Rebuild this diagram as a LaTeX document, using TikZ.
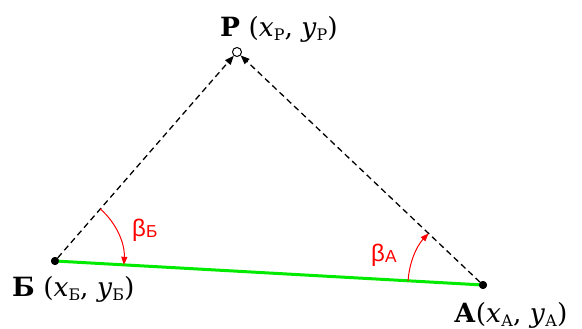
\documentclass[tikz,border=0pt]{standalone}
\usepackage{fontspec}
\setmainfont{DejaVu Serif}
\newfontfamily\betafont{Liberation Sans}
\usetikzlibrary{arrows.meta}
\newcommand\sbs[1]{\raisebox{-0.3ex}{\scalebox{0.6}{#1}}}
\newcommand\bsb[1]{\raisebox{-0.1ex}{\scalebox{0.72}{#1}}}
\begin{document}
\begin{tikzpicture}[x=1pt,y=1pt,
  lbl/.style={inner sep=0pt, font=\fontsize{26.5}{29}\selectfont},
  bet/.style={inner sep=0pt, text=red, font=\betafont\fontsize{24}{26}\selectfont},
  dashline/.style={dashed, dash pattern=on 6pt off 4pt, line width=1.3pt, -{Triangle[length=9pt,width=7pt]}},
  greenline/.style={line width=3pt, draw={rgb,255:red,0;green,235;blue,0}},
  anglearc/.style={red, line width=1pt, -{Triangle[length=8pt,width=6pt]}},
  dot/.style={circle, fill=black, inner sep=0pt, minimum size=8pt}]
\useasboundingbox (0,0) rectangle (582,-329);
\node[dot] (B) at (55,-261) {};
\node[dot] (A) at (483,-285) {};
\node[circle, draw, line width=1pt, fill=white, inner sep=0pt, minimum size=9pt] (P) at (237,-52) {};
\draw[greenline] (B.center) -- (A.center);
\draw[dashline] (B) -- (P);
\draw[dashline] (A) -- (P);
\node[dot] at (B) {};
\node[dot] at (A) {};
\draw[anglearc] ([shift={(49:69)}]B.center) arc (49:-3.2:69);
\draw[anglearc] ([shift={(176.8:75)}]A.center) arc (176.8:136.6:75);
\node[bet, anchor=west] (bB) at (132,-230) {β\bsb{Б}};
\node[bet, anchor=west] (bA) at (371,-255) {β\bsb{А}};
\node[lbl, anchor=west] (lP) at (220,-29) {\textbf{Р} (\textit{x}\sbs{Р}, \textit{y}\sbs{Р})};
\node[lbl, anchor=west] (lB) at (12,-289) {\textbf{Б} (\textit{x}\sbs{Б}, \textit{y}\sbs{Б})};
\node[lbl, anchor=west] (lA) at (454,-315) {\textbf{А}(\textit{x}\sbs{А}, \textit{y}\sbs{А})};
\end{tikzpicture}
\end{document}
